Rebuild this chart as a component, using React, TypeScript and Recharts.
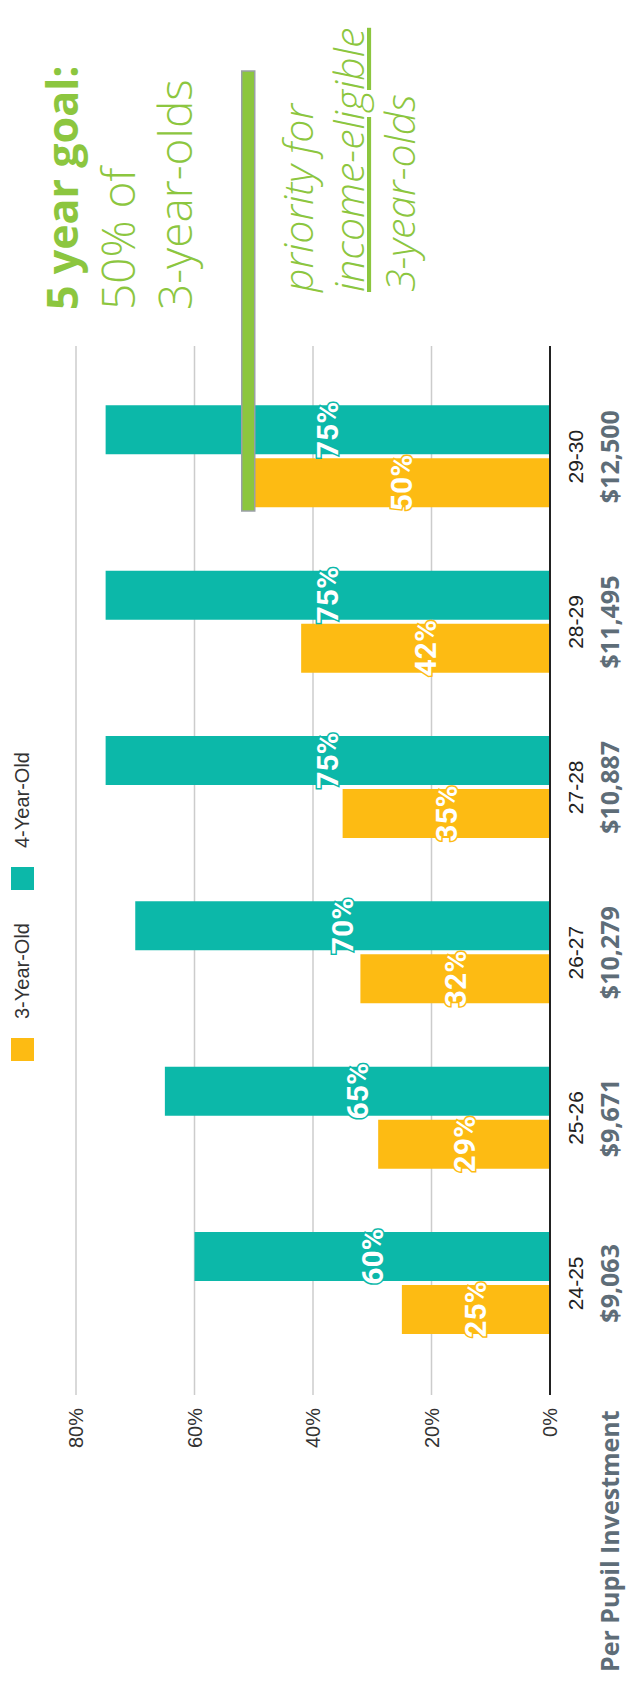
import React from "react";
import {
  BarChart,
  Bar,
  XAxis,
  YAxis,
  CartesianGrid,
  Legend,
  LabelList,
  ReferenceLine,
} from "recharts";

// chart data
const periods = ["24-25", "25-26", "26-27", "27-28", "28-29", "29-30"];
const perPupil = ["$9,063", "$9,671", "$10,279", "$10,887", "$11,495", "$12,500"];
const threeYearOld = [25, 29, 32, 35, 42, 50];
const fourYearOld = [60, 65, 70, 75, 75, 75];
const percentTicks = [0, 20, 40, 60, 80];
const goalShare = 50;

const TEAL = "#0cb8a9";
const YELLOW = "#fdbb13";
const GREEN = "#8cc63f";
const SLATE = "#5e6d78";
const SANS = "'Liberation Sans', Arial, sans-serif";
const ROUND = "'Open Sans', sans-serif";

// the chart is drawn upright (1684 x 627) and then turned a quarter turn left
const W = 1684;
const H = 627;

const chartData = periods.map((period, i) => ({
  period,
  investment: perPupil[i],
  threeYear: threeYearOld[i],
  fourYear: fourYearOld[i],
}));

function PeriodTick(props: any) {
  const { x, y, payload, index } = props;
  return (
    <g>
      <text x={x} y={y + 33} textAnchor="middle" fontSize={21} fill="#222" fontFamily={SANS}>
        {payload.value}
      </text>
      <text
        x={x}
        y={y + 69}
        textAnchor="middle"
        fontSize={25}
        fontWeight={700}
        fill={SLATE}
        fontFamily={ROUND}
      >
        {perPupil[index]}
      </text>
    </g>
  );
}

const barLabel = (edge: string) => (props: any) => {
  const { x, y, width, height, value } = props;
  return (
    <text
      x={Number(x) + Number(width) / 2}
      y={Number(y) + Number(height) / 2}
      textAnchor="middle"
      dominantBaseline="central"
      fill="#fff"
      stroke={edge}
      strokeWidth={3}
      paintOrder="stroke"
      fontFamily="Roboto, sans-serif"
      fontWeight={700}
      fontSize={30}
    >
      {value}%
    </text>
  );
};

function LegendContent(props: any) {
  const { payload = [] } = props;
  return (
    <div style={{ display: "flex", alignItems: "center", fontFamily: SANS, fontSize: 20, color: "#333" }}>
      {payload.map((entry: any) => (
        <div key={entry.value} style={{ display: "flex", alignItems: "center", marginRight: 33 }}>
          <span style={{ width: 23, height: 23, background: entry.color, marginRight: 19, display: "inline-block" }} />
          <span>{entry.value}</span>
        </div>
      ))}
    </div>
  );
}

function GoalBar(props: any) {
  const { x2, y1 } = props;
  return (
    <rect
      x={x2 - 165}
      y={y1 - 12}
      width={440}
      height={13}
      fill={GREEN}
      stroke="#9aa0a6"
      strokeWidth={1.5}
    />
  );
}

export default function App() {
  return (
    <div
      style={{
        position: "absolute",
        top: 0,
        left: 0,
        width: H,
        height: W,
        overflow: "hidden",
        background: "#fff",
      }}
    >
      <div
        style={{
          position: "absolute",
          top: 0,
          left: 0,
          width: W,
          height: H,
          transformOrigin: "0 0",
          transform: `translate(0px, ${W}px) rotate(-90deg)`,
        }}
      >
        <BarChart
          width={W}
          height={H}
          data={chartData}
          margin={{ top: 76, right: 346, bottom: 0, left: 229 }}
          barGap={4}
          style={{ fontFamily: SANS }}
        >
          <CartesianGrid vertical={false} stroke="#cccccc" strokeWidth={1.5} />
          <XAxis
            dataKey="period"
            height={77}
            padding={{ left: 29, right: 28 }}
            axisLine={{ stroke: "#222", strokeWidth: 2 }}
            tickLine={false}
            tickSize={0}
            tickMargin={0}
            tick={<PeriodTick />}
            interval={0}
          />
          <YAxis
            type="number"
            domain={[0, 80]}
            ticks={percentTicks}
            tickFormatter={(v: number) => `${v}%`}
            axisLine={false}
            tickLine={false}
            tickSize={0}
            tickMargin={13}
            width={60}
            tick={{ fill: "#333", fontSize: 20 }}
          />
          <Legend
            layout="horizontal"
            verticalAlign="middle"
            align="center"
            content={<LegendContent />}
            wrapperStyle={{ top: 11, left: 623, width: "auto", height: 23 }}
          />
          <Bar
            name="3-Year-Old"
            dataKey="threeYear"
            fill={YELLOW}
            barSize={49}
            isAnimationActive={false}
          >
            <LabelList dataKey="threeYear" content={barLabel(YELLOW)} />
          </Bar>
          <Bar
            name="4-Year-Old"
            dataKey="fourYear"
            fill={TEAL}
            barSize={49}
            isAnimationActive={false}
          >
            <LabelList dataKey="fourYear" content={barLabel(TEAL)} />
          </Bar>
          <ReferenceLine y={goalShare} shape={<GoalBar />} ifOverflow="visible" />
        </BarChart>

        <svg
          width={W}
          height={H}
          style={{ position: "absolute", top: 0, left: 0, pointerEvents: "none" }}
        >
          <g fontFamily={ROUND} fill={GREEN}>
            <text x={1374} y={78} fontSize={43} fontWeight={700}>
              5 year goal:
            </text>
            <text x={1374} y={135} fontSize={46} fontWeight={300}>
              50% of
            </text>
            <text x={1374} y={192} fontSize={46} fontWeight={300}>
              3-year-olds
            </text>
            <text x={1392} y={313} fontSize={41} fontWeight={300} fontStyle="italic">
              priority for
            </text>
            <text
              x={1392}
              y={364}
              fontSize={41}
              fontWeight={300}
              fontStyle="italic"
              textDecoration="underline"
            >
              income-eligible
            </text>
            <text x={1392} y={415} fontSize={41} fontWeight={300} fontStyle="italic">
              3-year-olds
            </text>
          </g>
          <text x={12} y={619} fontFamily={ROUND} fontSize={25} fontWeight={700} fill={SLATE}>
            Per Pupil Investment
          </text>
        </svg>
      </div>
    </div>
  );
}
